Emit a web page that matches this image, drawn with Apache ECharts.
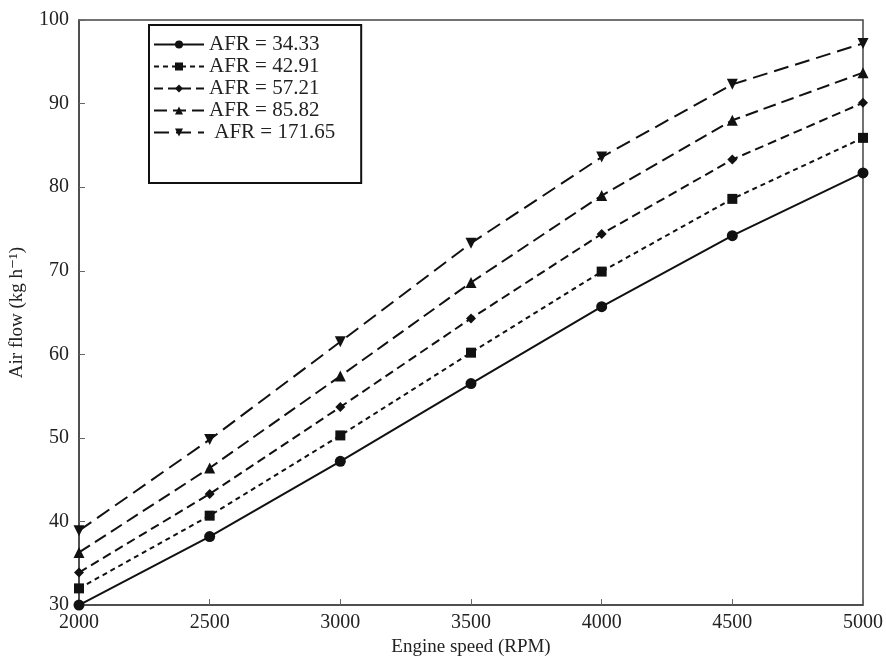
<!DOCTYPE html>
<html>
<head>
<meta charset="utf-8">
<script src="https://cdn.jsdelivr.net/npm/echarts@6/dist/echarts.min.js"></script>
<style>
  html, body { margin: 0; padding: 0; background: #fff; }
  #main { width: 886px; height: 662px; }
</style>
</head>
<body>
<div id="main"></div>
<script>
// engine speed (RPM)
var speeds = [2000, 2500, 3000, 3500, 4000, 4500, 5000];

// air flow (kg/h) for each AFR
var afr34 = [30.0, 38.2, 47.2, 56.5, 65.7, 74.2, 81.7];
var afr42 = [32.0, 40.7, 50.3, 60.2, 69.9, 78.6, 85.9];
var afr57 = [33.9, 43.3, 53.7, 64.3, 74.4, 83.3, 90.1];
var afr85 = [36.3, 46.4, 57.4, 68.6, 79.0, 88.0, 93.7];
var afr171 = [38.9, 49.8, 61.5, 73.3, 83.6, 92.3, 97.2];

var seriesNames = ['AFR = 34.33', 'AFR = 42.91', 'AFR = 57.21', 'AFR = 85.82', ' AFR = 171.65'];

var font = '"Liberation Serif", "DejaVu Serif", serif';
var ink = '#111';

function pairs(vals) {
    return speeds.map(function (s, i) { return [s, vals[i]]; });
}

function makeSeries(name, vals, symbol, size, dash, rotate) {
    return {
        name: name,
        type: 'line',
        data: pairs(vals),
        symbol: symbol,
        symbolSize: size,
        symbolRotate: rotate || 0,
        showAllSymbol: true,
        clip: false,
        itemStyle: { color: ink },
        lineStyle: { color: ink, width: 2, type: dash },
        emphasis: { disabled: true },
        animation: false
    };
}

var chart = echarts.init(document.getElementById('main'));

var option = {
    backgroundColor: '#fff',
    grid: {
        left: 78, right: 22, top: 20, bottom: 50,
        show: true,
        borderColor: '#444',
        borderWidth: 1.5,
        backgroundColor: 'transparent'
    },
    legend: {
        orient: 'vertical',
        left: 149,
        top: 25,
        padding: [9, 26, 40, 4],
        itemGap: 1,
        itemWidth: 50,
        itemHeight: 10,
        borderColor: '#111',
        borderWidth: 2,
        backgroundColor: '#fff',
        textStyle: { fontFamily: font, fontSize: 21, color: '#222', lineHeight: 21 },
        data: seriesNames
    },
    xAxis: {
        type: 'value',
        min: 2000,
        max: 5000,
        interval: 500,
        name: 'Engine speed (RPM)',
        nameLocation: 'middle',
        nameGap: 31,
        nameTextStyle: { fontFamily: font, fontSize: 19, color: '#222' },
        axisLine: { lineStyle: { color: '#444', width: 1.5 } },
        axisTick: { inside: true, length: 6, lineStyle: { color: '#666' } },
        axisLabel: {
            fontFamily: font, fontSize: 20, color: '#222', margin: 8,
            formatter: function (v) { return String(v); }
        },
        splitLine: { show: false }
    },
    yAxis: {
        type: 'value',
        min: 30,
        max: 100,
        interval: 10,
        name: 'Air flow (kg h\u207B\u00B9)',
        nameLocation: 'middle',
        nameGap: 52,
        nameTextStyle: { fontFamily: font, fontSize: 19, color: '#222' },
        axisLine: { lineStyle: { color: '#444', width: 1.5 } },
        axisTick: { inside: true, length: 6, lineStyle: { color: '#666' } },
        axisLabel: { fontFamily: font, fontSize: 20, color: '#222', margin: 10 },
        splitLine: { show: false }
    },
    series: [
        makeSeries(seriesNames[0], afr34, 'circle', 11, 'solid'),
        makeSeries(seriesNames[1], afr42, 'rect', 10, [5, 4]),
        makeSeries(seriesNames[2], afr57, 'diamond', 10, [9, 5]),
        makeSeries(seriesNames[3], afr85, 'triangle', 11, [13, 6]),
        makeSeries(seriesNames[4], afr171, 'triangle', 11, [15, 7], 180)
    ]
};

chart.setOption(option);
</script>
</body>
</html>
